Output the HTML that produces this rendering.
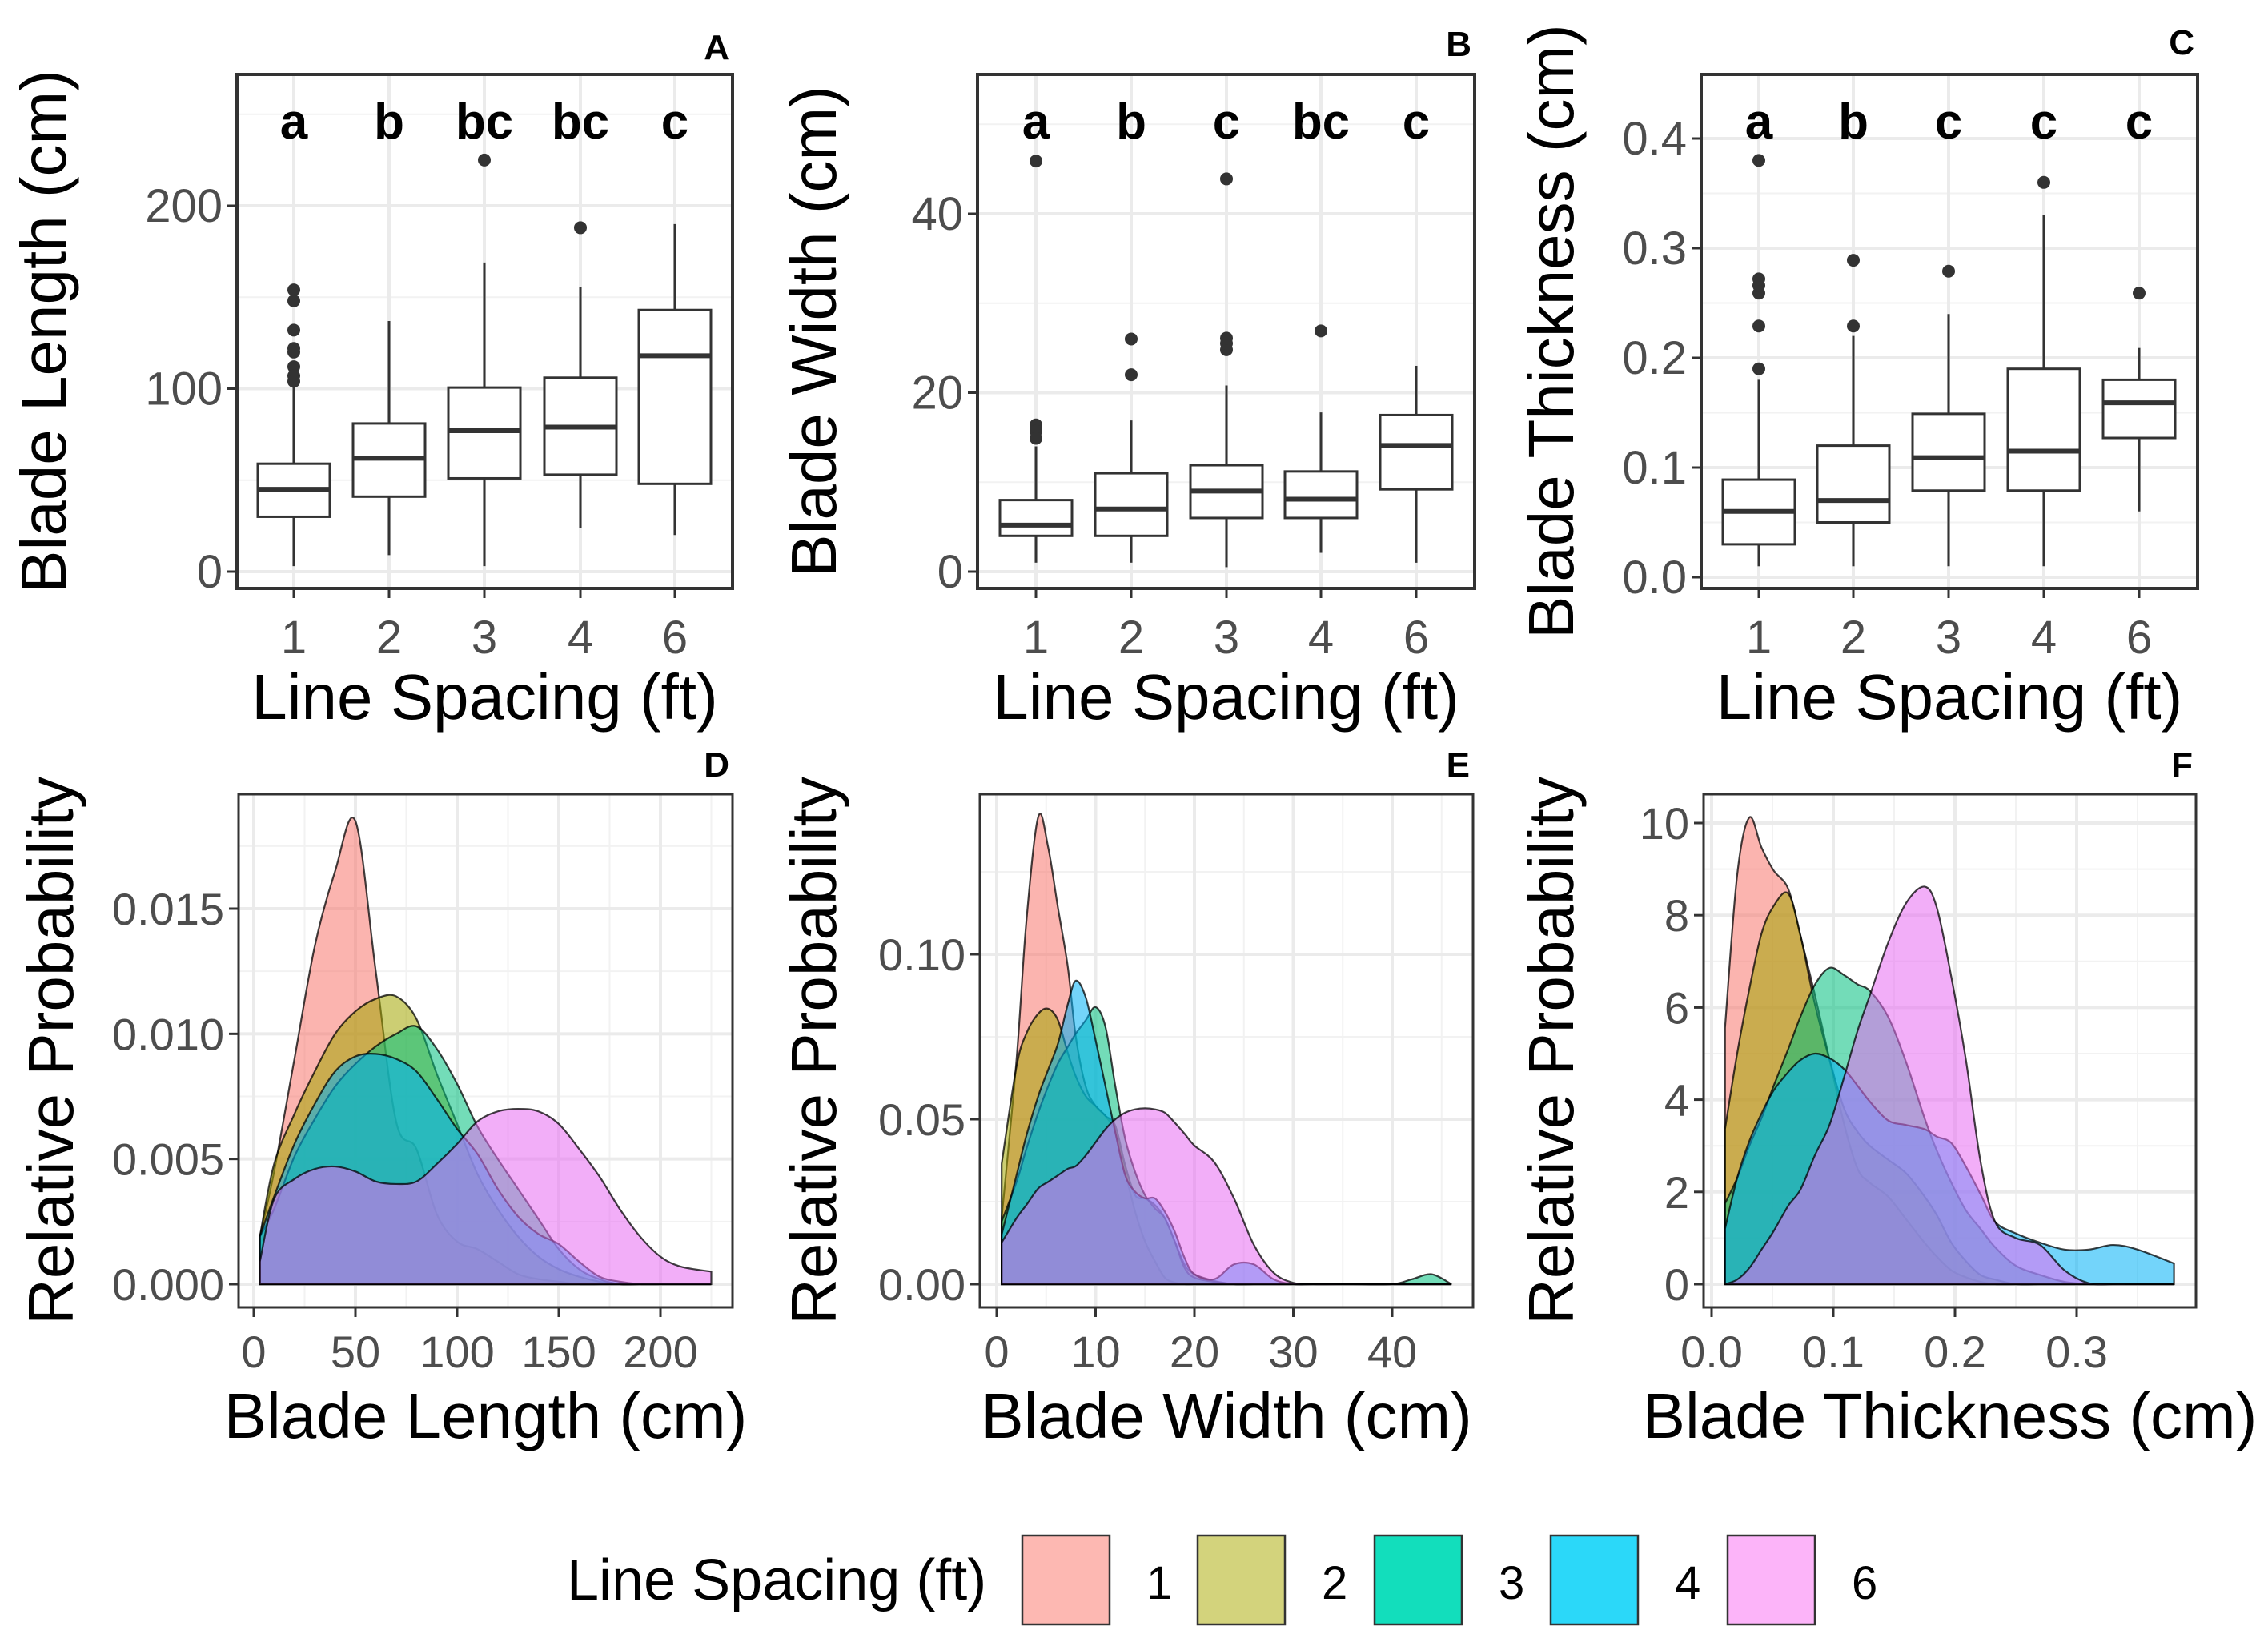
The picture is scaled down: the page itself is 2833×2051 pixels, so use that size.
<!DOCTYPE html>
<html><head><meta charset="utf-8"><style>
html,body{margin:0;padding:0;background:#fff;}
svg{display:block;font-family:"Liberation Sans",Arial,sans-serif;}
</style></head><body>
<svg id="fig" width="2833" height="2051" viewBox="0 0 2833 2051" xmlns="http://www.w3.org/2000/svg"></svg>
<script>
// ---------- DATA ----------
const groups = ["1","2","3","4","6"];
const fillColors = ["#F8766D","#A3A500","#00BF7D","#00B0F6","#E76BF3"];
const keyColors = ["#FDB8B2","#D3D37C","#12DEBC","#2BD8F9","#FCB4F9"];

// Boxplot stats: [low whisker, Q1, median, Q3, high whisker]
const lenStats = [[3,30,45,59,102],[9,41,62,81,137],[3,51,77,100.6,169],[24,53,79,106,155.6],[20,48,118,143,190]];
const lenOut = [[154,148,132,122,120,112,107,104],[],[225],[188],[]];
const widStats = [[1,4,5.2,8,14],[1,4,7,11,16.9],[0.5,6,9,11.9,20.8],[2.1,6,8.1,11.2,17.8],[1,9.2,14.1,17.5,23]];
const widOut = [[16.4,15.7,14.9,45.9],[22,26],[24.8,25.5,26.1,43.9],[26.9],[]];
const thkStats = [[0.01,0.03,0.06,0.089,0.18],[0.01,0.05,0.07,0.12,0.22],[0.01,0.079,0.109,0.149,0.24],[0.01,0.079,0.115,0.19,0.33],[0.06,0.127,0.159,0.18,0.209]];
const thkOut = [[0.19,0.229,0.259,0.266,0.272,0.38],[0.229,0.289],[0.279],[0.36],[0.259]];
const lenLetters = ["a","b","bc","bc","c"];
const widLetters = ["a","b","c","bc","c"];
const thkLetters = ["a","b","c","c","c"];

// Density panel D (blade length)
const dX = [3,10,20,30,40,50,60,70,80,90,100,110,120,130,140,150,160,170,180,190,200,210,225];
const dY1 = [.0019,.0045,.009,.0135,.0165,.0185,.0125,.0065,.0054,.0028,.0017,.0014,.0009,.0004,.0002,.0001,0,0,0,0,0,0,0];
const dY2 = [.0019,.0048,.0068,.0085,.0100,.0109,.0114,.0115,.0106,.0084,.0064,.0044,.0030,.0019,.0011,.0006,.0003,.0001,0,0,0,0,0];
const dY3 = [.0019,.0030,.0051,.0066,.0079,.0088,.0095,.0100,.0103,.0094,.0080,.0063,.0050,.0038,.0026,.0014,.0006,.0002,0,0,0,0,0];
const dY4 = [.0019,.0035,.0056,.0072,.0085,.0091,.0092,.0090,.0085,.0074,.0062,.0052,.0038,.0027,.0020,.0016,.0009,.0003,.0001,0,0,0,0];
const dY6 = [.0009,.0034,.0042,.0046,.0047,.0045,.0041,.0040,.0041,.0048,.0056,.0065,.0069,.0070,.0069,.0064,.0054,.0043,.0030,.0019,.0011,.0007,.0005];

// Density panel E (blade width)
const eX = [0.5,2,3,4.2,5.2,6.2,7.2,8,9,10,11,12,13,14,15,16,17,18,19,20,22,24,26,28,30,32,36,40,42,44,46];
const eY1 = [.020,.068,.110,.1417,.1325,.114,.096,.075,.060,.054,.051,.046,.034,.022,.013,.007,.002,.0005,0,0,0,0,0,0,0,0,0,0,0,0,0];
const eY2 = [.0365,.066,.076,.082,.0835,.080,.070,.063,.057,.054,.051,.048,.036,.027,.026,.024,.020,.013,.006,.003,.001,0,0,0,0,0,0,0,0,0,0];
const eY3 = [.019,.031,.041,.052,.060,.067,.072,.076,.080,.084,.078,.060,.044,.034,.027,.023,.020,.013,.005,.002,.0007,0,0,0,0,0,0,0,.0015,.003,0];
const eY4 = [.015,.033,.045,.057,.065,.073,.085,.092,.087,.074,.060,.046,.033,.028,.026,.026,.022,.016,.008,.003,.0015,.006,.006,.0015,0,0,0,0,0,0,0];
const eY6 = [.0126,.020,.024,.029,.031,.033,.035,.0358,.039,.043,.047,.050,.052,.053,.0533,.053,.052,.049,.0456,.042,.037,.026,.012,.0035,.0004,0,0,0,0,0,0];

// Density panel F (blade thickness)
const fX = [0.011,0.021,0.031,0.041,0.051,0.063,0.073,0.085,0.097,0.109,0.12,0.13,0.145,0.16,0.175,0.185,0.197,0.209,0.221,0.233,0.25,0.27,0.29,0.31,0.33,0.35,0.38];
const fY1 = [5.56,8.87,10.12,9.47,8.97,8.57,7.56,6.26,4.86,3.46,2.5,2.2,1.9,1.4,0.9,0.6,0.3,0.15,0.05,0,0,0,0,0,0,0,0];
const fY2 = [3.36,5.0,6.4,7.6,8.2,8.47,7.56,6.06,4.86,3.8,3.3,3.0,2.7,2.4,1.9,1.5,0.9,0.5,0.2,0.1,0,0,0,0,0,0,0];
const fY3 = [1.75,2.3,3.0,3.6,4.3,5.1,5.8,6.5,6.86,6.7,6.5,6.36,5.8,4.8,3.6,2.9,2.2,1.6,1.2,0.8,0.4,0.2,0.05,0,0,0,0];
const fY4 = [1.2,2.3,3.1,3.7,4.2,4.6,4.86,5.0,4.9,4.66,4.3,3.96,3.55,3.45,3.36,3.2,3.06,2.55,1.95,1.35,1.1,0.9,0.75,0.75,0.85,0.75,0.45];
const fY6 = [0,0.1,0.35,0.75,1.15,1.7,2.05,2.8,3.46,4.5,5.5,6.26,7.4,8.27,8.62,8.17,6.66,4.86,2.66,1.35,1.0,0.85,0.3,0.02,0,0,0];

const dTicksY=[0,0.005,0.010,0.015], dTickLabY=["0.000","0.005","0.010","0.015"];
const dTicksX=[0,50,100,150,200], dTickLabX=["0","50","100","150","200"];
const eTicksY=[0,0.05,0.10], eTickLabY=["0.00","0.05","0.10"];
const eTicksX=[0,10,20,30,40], eTickLabX=["0","10","20","30","40"];
const fTicksY=[0,2,4,6,8,10], fTickLabY=["0","2","4","6","8","10"];
const fTicksX=[0,0.1,0.2,0.3], fTickLabX=["0.0","0.1","0.2","0.3"];
const aTicks=[0,100,200], aTickLab=["0","100","200"];
const bTicks=[0,20,40], bTickLab=["0","20","40"];
const cTicks=[0,0.1,0.2,0.3,0.4], cTickLab=["0.0","0.1","0.2","0.3","0.4"];

// ---------- DRAW ----------
const NS="http://www.w3.org/2000/svg";
const svg=document.getElementById('fig');
function mk(tag,attrs,parent){const e=document.createElementNS(NS,tag);for(const k in attrs)e.setAttribute(k,attrs[k]);(parent||svg).appendChild(e);return e;}
function txt(s,attrs,parent){const e=mk('text',attrs,parent);e.textContent=s;return e;}
function lin(v0,p0,v1,p1){return v=>p0+(v-v0)*(p1-p0)/(v1-v0);}
function smooth(pts){let d="M"+pts[0][0]+","+pts[0][1];for(let i=0;i<pts.length-1;i++){const p0=pts[Math.max(0,i-1)],p1=pts[i],p2=pts[i+1],p3=pts[Math.min(pts.length-1,i+2)];const c1x=p1[0]+(p2[0]-p0[0])/6,c1y=p1[1]+(p2[1]-p0[1])/6,c2x=p2[0]-(p3[0]-p1[0])/6,c2y=p2[1]-(p3[1]-p1[1])/6;d+=` C${c1x},${c1y} ${c2x},${c2y} ${p2[0]},${p2[1]}`;}return d;}

function boxPanel(cfg){
  const g=mk('g',{});
  
  
  const b=cfg.box; const y=cfg.y;
  mk('rect',{x:b.l,y:b.t,width:b.r-b.l,height:b.b-b.t,fill:'#fff'},g);
  cfg.minor.forEach(v=>{const p=y(v);if(p>b.t&&p<b.b)mk('line',{x1:b.l,x2:b.r,y1:p,y2:p,stroke:'#f2f2f2','stroke-width':2},g);});
  cfg.ticks.forEach(v=>{const p=y(v);mk('line',{x1:b.l,x2:b.r,y1:p,y2:p,stroke:'#ebebeb','stroke-width':4},g);});
  cfg.xs.forEach(px=>mk('line',{x1:px,x2:px,y1:b.t,y2:b.b,stroke:'#ebebeb','stroke-width':4},g));
  cfg.stats.forEach((s,i)=>{
    const cx=cfg.xs[i], hw=45;
    const grp=mk('g',{},g);
    
    
    mk('line',{x1:cx,x2:cx,y1:y(s[0]),y2:y(s[1]),stroke:'#333','stroke-width':3},grp);
    mk('line',{x1:cx,x2:cx,y1:y(s[3]),y2:y(s[4]),stroke:'#333','stroke-width':3},grp);
    mk('rect',{x:cx-hw,y:y(s[3]),width:2*hw,height:y(s[1])-y(s[3]),fill:'#fff',stroke:'#333','stroke-width':3},grp);
    mk('line',{x1:cx-hw,x2:cx+hw,y1:y(s[2]),y2:y(s[2]),stroke:'#333','stroke-width':6},grp);
    cfg.out[i].forEach(o=>{const c=mk('circle',{cx:cx,cy:y(o),r:8,fill:'#333'},grp);});
    const t=txt(cfg.letters[i],{x:cx,y:173,'text-anchor':'middle','font-size':62,'font-weight':'bold',fill:'#000'},g);
    
    
  });
  mk('rect',{x:b.l,y:b.t,width:b.r-b.l,height:b.b-b.t,fill:'none',stroke:'#333','stroke-width':4},g);
  cfg.ticks.forEach((v,i)=>{const p=y(v);mk('line',{x1:b.l-12,x2:b.l,y1:p,y2:p,stroke:'#333','stroke-width':3},g);
    const t=txt(cfg.tickLab[i],{x:b.l-18,y:p+20,'text-anchor':'end','font-size':58,fill:'#4d4d4d'},g);
    });
  cfg.xs.forEach((px,i)=>{mk('line',{x1:px,x2:px,y1:b.b,y2:b.b+12,stroke:'#333','stroke-width':3},g);
    const t=txt(groups[i],{x:px,y:816,'text-anchor':'middle','font-size':58,fill:'#4d4d4d'},g);
    });
  const yt=txt(cfg.ytitle,{x:0,y:0,'text-anchor':'middle','font-size':80,fill:'#000',transform:`translate(${cfg.ytx},${(b.t+b.b)/2}) rotate(-90)`},g);
  
  const xt=txt('Line Spacing (ft)',{x:(b.l+b.r)/2,y:898,'text-anchor':'middle','font-size':80,fill:'#000'},g);
  
  const pl=txt(cfg.label,{x:b.r-4,y:cfg.ly,'text-anchor':'end','font-size':44,'font-weight':'bold',fill:'#000'},g);
  
}

function densPanel(cfg){
  const g=mk('g',{});
  
  
  const b=cfg.box,x=cfg.x,y=cfg.y;
  mk('rect',{x:b.l,y:b.t,width:b.r-b.l,height:b.b-b.t,fill:'#fff'},g);
  cfg.minY.forEach(v=>{const p=y(v);if(p>b.t&&p<b.b)mk('line',{x1:b.l,x2:b.r,y1:p,y2:p,stroke:'#f2f2f2','stroke-width':2},g);});
  cfg.minX.forEach(v=>{const p=x(v);if(p>b.l&&p<b.r)mk('line',{x1:p,x2:p,y1:b.t,y2:b.b,stroke:'#f2f2f2','stroke-width':2},g);});
  cfg.ty.forEach(v=>{const p=y(v);mk('line',{x1:b.l,x2:b.r,y1:p,y2:p,stroke:'#ebebeb','stroke-width':4},g);});
  cfg.tx.forEach(v=>{const p=x(v);mk('line',{x1:p,x2:p,y1:b.t,y2:b.b,stroke:'#ebebeb','stroke-width':4},g);});
  cfg.series.forEach((ys,i)=>{
    const pts=cfg.xs.map((xv,k)=>[x(xv),y(ys[k])]);
    const d=smooth(pts)+` L${x(cfg.xs[cfg.xs.length-1])},${y(0)} L${x(cfg.xs[0])},${y(0)} Z`;
    const p=mk('path',{d:d,fill:fillColors[i],'fill-opacity':0.55,stroke:'#000','stroke-opacity':0.75,'stroke-width':2.2},g);
    
    
  });
  mk('rect',{x:b.l,y:b.t,width:b.r-b.l,height:b.b-b.t,fill:'none',stroke:'#333','stroke-width':3},g);
  cfg.ty.forEach((v,i)=>{const p=y(v);mk('line',{x1:b.l-12,x2:b.l,y1:p,y2:p,stroke:'#333','stroke-width':3},g);
    const t=txt(cfg.tyl[i],{x:b.l-18,y:p+20,'text-anchor':'end','font-size':56,fill:'#4d4d4d'},g);
    });
  cfg.tx.forEach((v,i)=>{const p=x(v);mk('line',{x1:p,x2:p,y1:b.b,y2:b.b+12,stroke:'#333','stroke-width':3},g);
    const t=txt(cfg.txl[i],{x:p,y:1708,'text-anchor':'middle','font-size':56,fill:'#4d4d4d'},g);
    });
  const yt=txt('Relative Probability',{x:0,y:0,'text-anchor':'middle','font-size':80,fill:'#000',transform:`translate(${cfg.ytx},${(b.t+b.b)/2}) rotate(-90)`},g);
  
  const xt=txt(cfg.xtitle,{x:(b.l+b.r)/2,y:1796,'text-anchor':'middle','font-size':80,fill:'#000'},g);
  
  const pl=txt(cfg.label,{x:b.r-4,y:970,'text-anchor':'end','font-size':44,'font-weight':'bold',fill:'#000'},g);
  
}

const topBox=(l,r)=>({l:l,r:r,t:93,b:735});
boxPanel({name:'panel-a-blade-length-boxplot',box:topBox(296,915),y:lin(0,714,200,257),ticks:aTicks,tickLab:aTickLab,minor:[50,150,250],
  xs:[367,486,605,725,843],stats:lenStats,out:lenOut,letters:lenLetters,ytitle:'Blade Length (cm)',ytx:82,label:'A',ly:74});
boxPanel({name:'panel-b-blade-width-boxplot',box:topBox(1221,1842),y:lin(0,714,40,267),ticks:bTicks,tickLab:bTickLab,minor:[10,30,50],
  xs:[1294,1413,1532,1650,1769],stats:widStats,out:widOut,letters:widLetters,ytitle:'Blade Width (cm)',ytx:1044,label:'B',ly:70});
boxPanel({name:'panel-c-blade-thickness-boxplot',box:topBox(2125,2745),y:lin(0,721,0.4,173),ticks:cTicks,tickLab:cTickLab,minor:[0.05,0.15,0.25,0.35],
  xs:[2197,2315,2434,2553,2672],stats:thkStats,out:thkOut,letters:thkLetters,ytitle:'Blade Thickness (cm)',ytx:1965,label:'C',ly:68});

const botBox=(l,r)=>({l:l,r:r,t:992,b:1633});
densPanel({name:'panel-d-length-density',box:botBox(298,915),x:lin(0,317,200,825),y:lin(0,1604,0.015,1135),
  tx:dTicksX,txl:dTickLabX,ty:dTicksY,tyl:dTickLabY,minX:[25,75,125,175,225],minY:[0.0025,0.0075,0.0125,0.0175],
  xs:dX,series:[dY1,dY2,dY3,dY4,dY6],xtitle:'Blade Length (cm)',ytx:91,label:'D'});
densPanel({name:'panel-e-width-density',box:botBox(1224,1840),x:lin(0,1245,40,1739),y:lin(0,1604,0.10,1192),
  tx:eTicksX,txl:eTickLabX,ty:eTicksY,tyl:eTickLabY,minX:[5,15,25,35,45],minY:[0.025,0.075,0.125],
  xs:eX,series:[eY1,eY2,eY3,eY4,eY6],xtitle:'Blade Width (cm)',ytx:1044,label:'E'});
densPanel({name:'panel-f-thickness-density',box:botBox(2128,2743),x:lin(0,2138,0.3,2594),y:lin(0,1604,10,1028),
  tx:fTicksX,txl:fTickLabX,ty:fTicksY,tyl:fTickLabY,minX:[0.05,0.15,0.25,0.35],minY:[1,3,5,7,9],
  xs:fX,series:[fY1,fY2,fY3,fY4,fY6],xtitle:'Blade Thickness (cm)',ytx:1965,label:'F'});

// Legend
const lg=mk('g',{});


const lt=txt('Line Spacing (ft)',{x:708,y:1998,'font-size':72,fill:'#000'},lg);

const keyX=[1277,1496,1717,1937,2158];
groups.forEach((gname,i)=>{
  const e=mk('g',{},lg);
  
  
  mk('rect',{x:keyX[i],y:1918,width:109,height:111,fill:keyColors[i],stroke:'#333','stroke-width':2.5},e);
  txt(gname,{x:keyX[i]+155,y:1997,'font-size':58,fill:'#000'},e);
});
</script>
</body></html>
